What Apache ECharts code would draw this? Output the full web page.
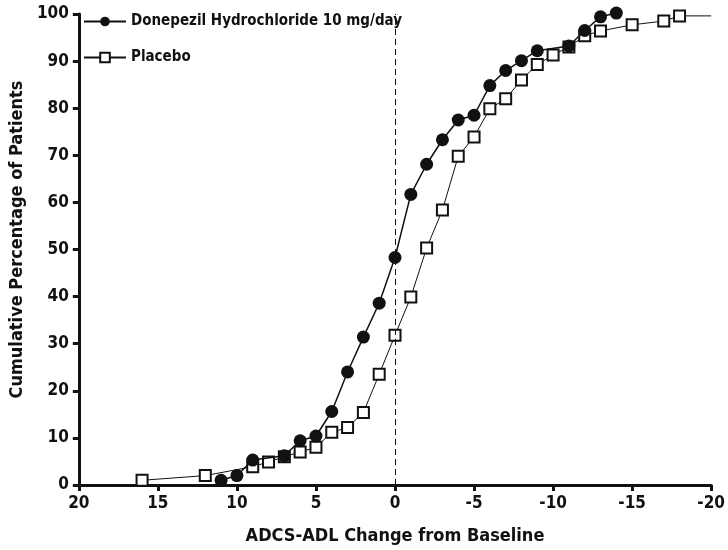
<!DOCTYPE html>
<html><head><meta charset="utf-8">
<script src="https://cdn.jsdelivr.net/npm/echarts@6/dist/echarts.min.js"></script>
<style>html,body{margin:0;padding:0;background:#fff}#c{width:728px;height:550px}</style>
</head><body><div id="c"></div>
<script>
const donepezilX = [11, 10, 9, 7, 6, 5, 4, 3, 2, 1, 0, -1, -2, -3, -4, -5, -6, -7, -8, -9, -11, -12, -13, -14];
const donepezilY = [1.0, 2.0, 5.3, 6.2, 9.4, 10.4, 15.6, 24.0, 31.4, 38.6, 48.3, 61.7, 68.1, 73.3, 77.5, 78.5, 84.8, 88.0, 90.1, 92.2, 93.2, 96.5, 99.4, 100.2];
const placeboX = [16, 12, 9, 8, 7, 6, 5, 4, 3, 2, 1, 0, -1, -2, -3, -4, -5, -6, -7, -8, -9, -10, -11, -12, -13, -15, -17, -18, -20];
const placeboY = [1.0, 2.0, 3.9, 4.9, 6.0, 7.0, 8.0, 11.2, 12.2, 15.4, 23.5, 31.8, 39.9, 50.3, 58.4, 69.8, 73.9, 79.9, 82.0, 86.0, 89.3, 91.3, 93.0, 95.4, 96.4, 97.7, 98.5, 99.6, 99.6];
const placeboMarked = [true,true,true,true,true,true,true,true,true,true,true,true,true,true,true,true,true,true,true,true,true,true,true,true,true,true,true,true,false];
const xTicks = [20, 15, 10, 5, 0, -5, -10, -15, -20];
const yTicks = [0, 10, 20, 30, 40, 50, 60, 70, 80, 90, 100];

const FONT = '"DejaVu Sans Condensed", "Liberation Sans", Arial, sans-serif';
const chart = echarts.init(document.getElementById('c'));
const dData = donepezilX.map((x, i) => [x, donepezilY[i]]);
const pData = placeboX.map((x, i) => placeboMarked[i] ? [x, placeboY[i]] : {value: [x, placeboY[i]], symbol: 'none'});
chart.setOption({
  animation: false,
  backgroundColor: '#fff',
  grid: {left: 73, right: 15, top: 14, bottom: 63, containLabel: false},
  legend: {
    orient: 'vertical', left: 78, top: 9, itemWidth: 42, itemHeight: 12, itemGap: 21,
    textStyle: {fontFamily: FONT, fontWeight: 'bold', fontSize: 15, color: '#111'},
    data: ['Donepezil Hydrochloride 10 mg/day', 'Placebo']
  },
  xAxis: {
    type: 'value', min: -20, max: 20, interval: 5, inverse: true,
    name: 'ADCS-ADL Change from Baseline', nameLocation: 'middle', nameGap: 42,
    nameTextStyle: {fontFamily: FONT, fontWeight: 'bold', fontSize: 18, color: '#111'},
    axisLine: {onZero: false, lineStyle: {color: '#111', width: 3}},
    axisTick: {length: 6, lineStyle: {color: '#111', width: 3}},
    axisLabel: {fontFamily: FONT, fontWeight: 'bold', fontSize: 17, color: '#111', margin: 10,
      formatter: v => xTicks.includes(v) ? String(v) : ''},
    splitLine: {show: false}
  },
  yAxis: {
    type: 'value', min: 0, max: 100, interval: 10,
    name: 'Cumulative Percentage of Patients', nameLocation: 'middle', nameGap: 52, nameRotate: 90,
    nameTextStyle: {fontFamily: FONT, fontWeight: 'bold', fontSize: 18, color: '#111', padding: [0, 0, 0, 20]},
    axisLine: {show: true, onZero: false, lineStyle: {color: '#111', width: 3}},
    axisTick: {show: true, length: 6, lineStyle: {color: '#111', width: 3}},
    axisLabel: {fontFamily: FONT, fontWeight: 'bold', fontSize: 17, color: '#111', margin: 10,
      formatter: v => yTicks.includes(v) ? String(v) : ''},
    splitLine: {show: false}
  },
  series: [
    {
      name: 'Placebo', type: 'line', data: pData, symbol: 'rect', symbolSize: 11, clip: false,
      lineStyle: {color: '#111', width: 1},
      itemStyle: {color: '#fff', borderColor: '#111', borderWidth: 2},
      z: 2,
      markLine: {
        silent: true, symbol: 'none', label: {show: false},
        lineStyle: {color: '#111', type: [6, 4], width: 1},
        data: [{xAxis: 0}]
      }
    },
    {
      name: 'Donepezil Hydrochloride 10 mg/day', type: 'line', data: dData, symbol: 'circle', symbolSize: 13, clip: false,
      lineStyle: {color: '#111', width: 1.5},
      itemStyle: {color: '#111', borderColor: '#111', borderWidth: 0},
      z: 3
    }
  ]
});
</script></body></html>
